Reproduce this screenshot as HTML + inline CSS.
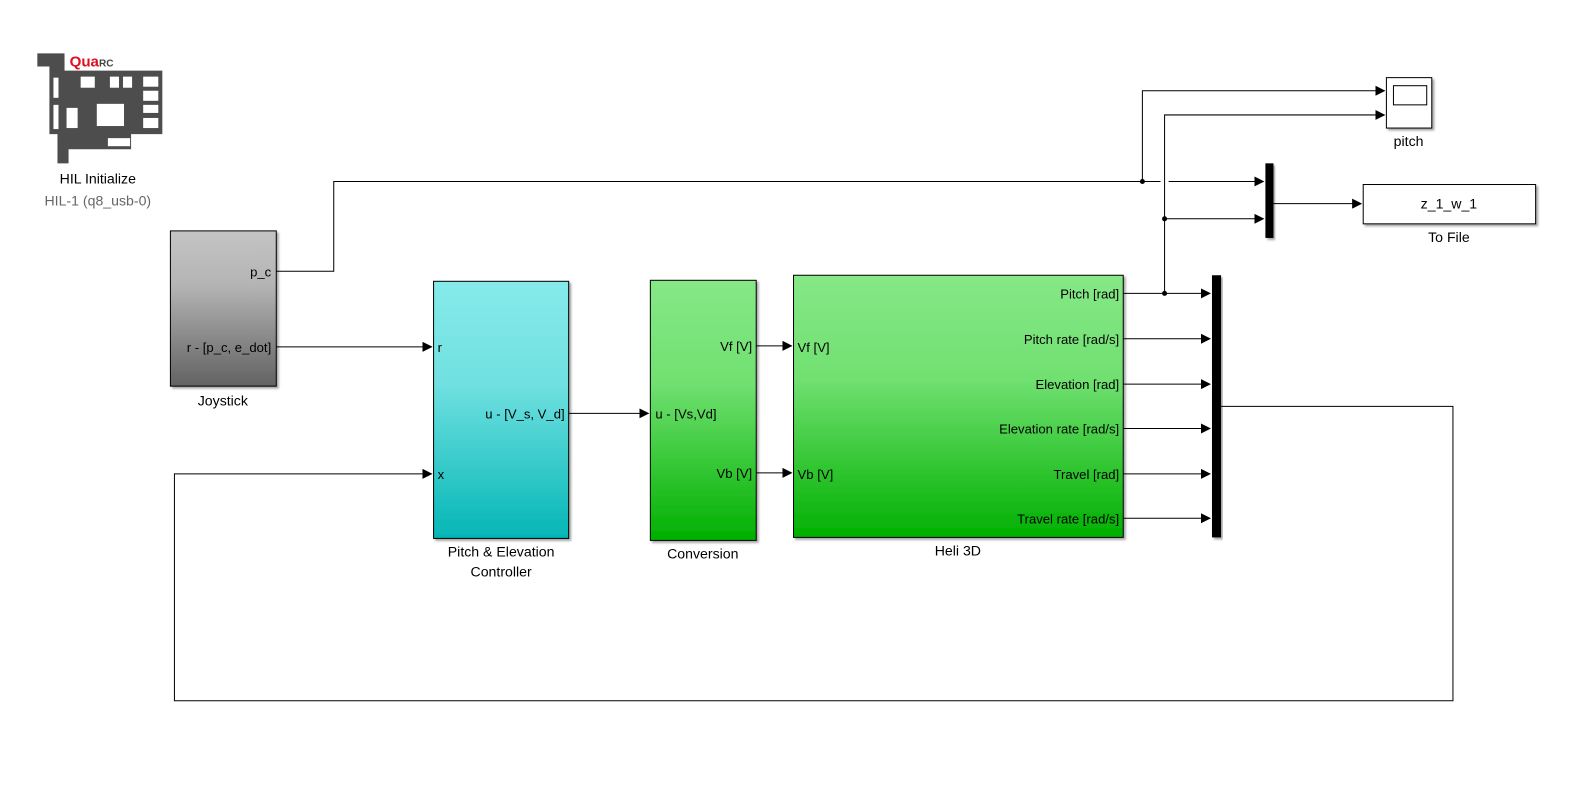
<!DOCTYPE html>
<html><head><meta charset="utf-8"><style>
html,body{margin:0;padding:0;background:#fff;width:1581px;height:794px;overflow:hidden;}
svg{display:block;font-family:"Liberation Sans",sans-serif;font-size:13px;}
</style></head><body>
<svg width="1581" height="794" viewBox="0 0 1568 787.5" preserveAspectRatio="none">
<defs>
<linearGradient id="gj" x1="0" y1="0" x2="0" y2="1"><stop offset="0" stop-color="#c4c4c4"/><stop offset="0.35" stop-color="#b4b4b4"/><stop offset="1" stop-color="#626262"/></linearGradient>
<linearGradient id="gc" x1="0" y1="0" x2="0" y2="1"><stop offset="0" stop-color="#86eaea"/><stop offset="0.4" stop-color="#70e0e0"/><stop offset="1" stop-color="#04b6b6"/></linearGradient>
<linearGradient id="gg" x1="0" y1="0" x2="0" y2="1"><stop offset="0" stop-color="#86e886"/><stop offset="0.4" stop-color="#70e070"/><stop offset="1" stop-color="#00b000"/></linearGradient>
<marker id="ar" markerWidth="10" markerHeight="10" refX="9" refY="5" orient="auto" markerUnits="userSpaceOnUse"><path d="M0,0 L10,5 L0,10 Z" fill="#000"/></marker>
<filter id="sh" x="-10%" y="-5%" width="130%" height="115%"><feDropShadow dx="2" dy="2" stdDeviation="1" flood-color="#000" flood-opacity="0.35"/></filter>
</defs>

<g>
<path d="M37,53 L64,53 L64,70 L161,70 L161,133 L130,133 L130,148 L68,148 L68,162 L57,162 L57,133 L49,133 L49,66 L37,66 Z" fill="#4d4d4d"/>
<rect x="80" y="76" width="14" height="11" fill="#fff"/>
<rect x="109" y="76" width="9" height="11" fill="#fff"/>
<rect x="122" y="76" width="9" height="11" fill="#fff"/>
<rect x="142" y="76" width="15" height="10" fill="#fff"/>
<rect x="142" y="90" width="15" height="10" fill="#fff"/>
<rect x="142" y="104" width="15" height="8" fill="#fff"/>
<rect x="142" y="117" width="15" height="10" fill="#fff"/>
<rect x="96" y="103" width="27" height="22" fill="#fff"/>
<rect x="66" y="107" width="11" height="20" fill="#fff"/>
<rect x="53" y="77" width="5" height="20" fill="#fff"/>
<rect x="53" y="104" width="5" height="24" fill="#fff"/>
<rect x="107" y="137" width="22" height="8" fill="#fff"/>
<text x="69" y="66" font-size="15" fill="#e01020" font-weight="bold">Qua<tspan font-size="10" fill="#444">RC</tspan></text>
<text x="97" y="182" text-anchor="middle" font-size="14">HIL Initialize</text>
<text x="97" y="204" text-anchor="middle" font-size="14" fill="#666">HIL-1 (q8_usb-0)</text>
</g>

<g fill="none" stroke="#000" stroke-width="1">
<polyline points="274,269 331,269 331,180 1151,180" />
<polyline points="1159,180 1253,180" marker-end="url(#ar)"/>
<polyline points="1133,180 1133,90 1373,90" marker-end="url(#ar)"/>
<polyline points="1114,291 1200,291" marker-end="url(#ar)"/>
<polyline points="1155,291 1155,114 1373,114" marker-end="url(#ar)"/>
<polyline points="1155,217 1253,217" marker-end="url(#ar)"/>
<polyline points="1263,202 1350,202" marker-end="url(#ar)"/>
<polyline points="274,344 428,344" marker-end="url(#ar)"/>
<polyline points="564,410 643,410" marker-end="url(#ar)"/>
<polyline points="750,343 785,343" marker-end="url(#ar)"/>
<polyline points="750,469 785,469" marker-end="url(#ar)"/>
<polyline points="1114,336 1200,336" marker-end="url(#ar)"/>
<polyline points="1114,381 1200,381" marker-end="url(#ar)"/>
<polyline points="1114,425 1200,425" marker-end="url(#ar)"/>
<polyline points="1114,470 1200,470" marker-end="url(#ar)"/>
<polyline points="1114,514 1200,514" marker-end="url(#ar)"/>
<polyline points="1211,403 1441,403 1441,695 173,695 173,470 428,470" marker-end="url(#ar)"/>
</g>
<g fill="#000">
<circle cx="1133" cy="180" r="2.5"/><circle cx="1155" cy="217" r="2.5"/><circle cx="1155" cy="291" r="2.5"/>
</g>

<g>
<rect x="169" y="229" width="105" height="154" fill="url(#gj)" stroke="#000" filter="url(#sh)"/>
<text x="269" y="274" text-anchor="end">p_c</text>
<text x="269" y="349" text-anchor="end">r - [p_c, e_dot]</text>
<text x="221" y="402" text-anchor="middle" font-size="14">Joystick</text>
</g>

<g>
<rect x="430" y="279" width="134" height="255" fill="url(#gc)" stroke="#000" filter="url(#sh)"/>
<text x="434" y="349">r</text>
<text x="434" y="475">x</text>
<text x="560" y="415" text-anchor="end">u -  [V_s, V_d]</text>
<text x="497" y="552" text-anchor="middle" font-size="14">Pitch &amp; Elevation</text>
<text x="497" y="572" text-anchor="middle" font-size="14">Controller</text>
</g>

<g>
<rect x="645" y="278" width="105" height="258" fill="url(#gg)" stroke="#000" filter="url(#sh)"/>
<text x="650" y="415">u - [Vs,Vd]</text>
<text x="746" y="348" text-anchor="end">Vf [V]</text>
<text x="746" y="474" text-anchor="end">Vb [V]</text>
<text x="697" y="554" text-anchor="middle" font-size="14">Conversion</text>
</g>

<g>
<rect x="787" y="273" width="327" height="260" fill="url(#gg)" stroke="#000" filter="url(#sh)"/>
<text x="791" y="349">Vf [V]</text>
<text x="791" y="475">Vb [V]</text>
<text x="1110" y="296" text-anchor="end">Pitch [rad]</text>
<text x="1110" y="341" text-anchor="end">Pitch rate [rad/s]</text>
<text x="1110" y="386" text-anchor="end">Elevation [rad]</text>
<text x="1110" y="430" text-anchor="end">Elevation rate [rad/s]</text>
<text x="1110" y="475" text-anchor="end">Travel [rad]</text>
<text x="1110" y="519" text-anchor="end">Travel rate [rad/s]</text>
<text x="950" y="551" text-anchor="middle" font-size="14">Heli 3D</text>
</g>

<rect x="1202" y="273" width="9" height="260" fill="#000" filter="url(#sh)"/>
<rect x="1255" y="162" width="8" height="74" fill="#000" filter="url(#sh)"/>

<g>
<rect x="1375" y="77" width="45" height="50" fill="#fff" stroke="#000" filter="url(#sh)"/>
<rect x="1382" y="85" width="33" height="19" fill="#fff" stroke="#000"/>
<text x="1397" y="145" text-anchor="middle" font-size="14">pitch</text>
</g>

<g>
<rect x="1352" y="183" width="171" height="39" fill="#fff" stroke="#000" filter="url(#sh)"/>
<text x="1437" y="207" text-anchor="middle" font-size="14">z_1_w_1</text>
<text x="1437" y="240" text-anchor="middle" font-size="14">To File</text>
</g>
</svg>
</body></html>
